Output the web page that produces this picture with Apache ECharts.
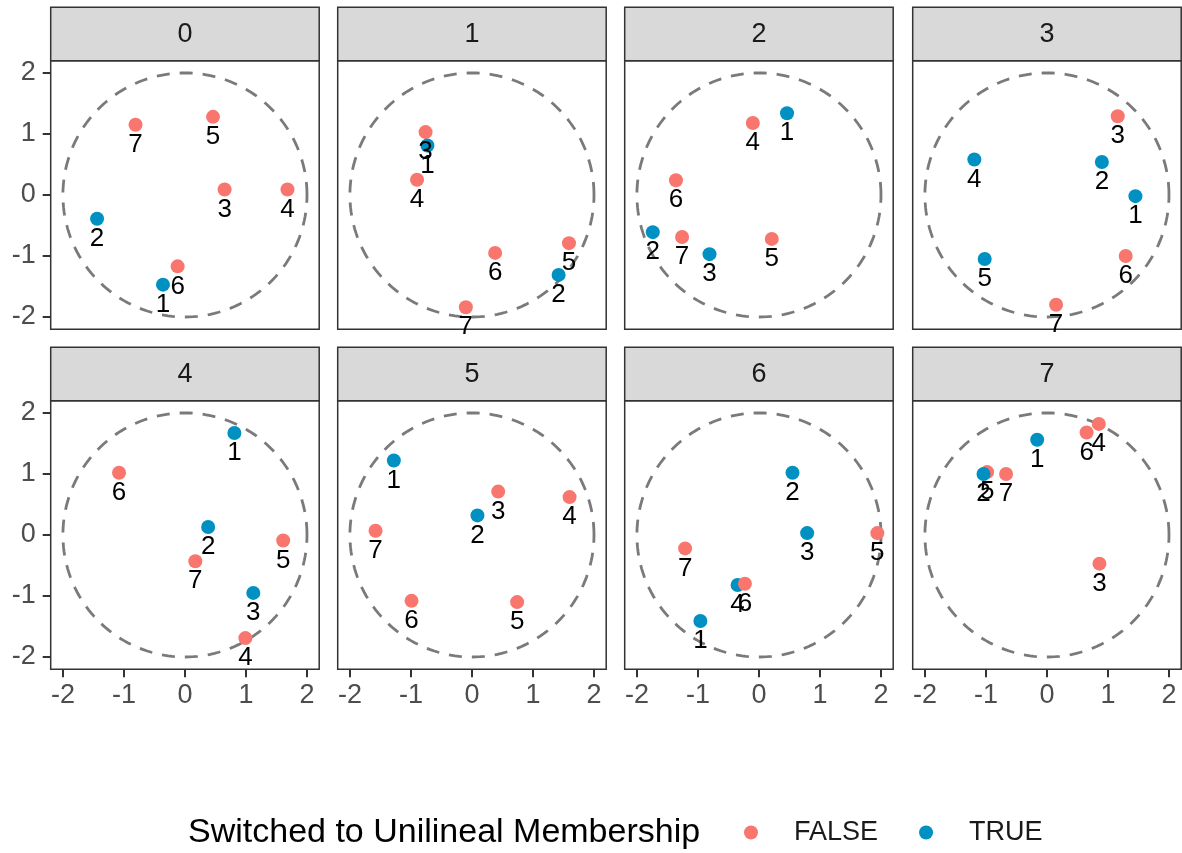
<!DOCTYPE html>
<html>
<head>
<meta charset="utf-8">
<script src="https://cdn.jsdelivr.net/npm/echarts@6/dist/echarts.min.js"></script>
<style>
  html, body { margin: 0; padding: 0; background: #ffffff; }
  #chart { width: 1182px; height: 853px; }
</style>
</head>
<body>
<div id="chart"></div>
<script>
// Facet titles, one per panel
const PANELS = ['0', '1', '2', '3', '4', '5', '6', '7'];

// Each row: [label, x, y, switched (0 = FALSE, 1 = TRUE)]
const PANEL_0 = [[7, -0.81, 1.15, 0], [5, 0.46, 1.28, 0], [3, 0.65, 0.09, 0], [4, 1.68, 0.09, 0],
                 [2, -1.44, -0.39, 1], [6, -0.12, -1.17, 0], [1, -0.36, -1.47, 1]];
const PANEL_1 = [[3, -0.76, 1.03, 0], [1, -0.73, 0.81, 1], [4, -0.90, 0.25, 0], [6, 0.38, -0.95, 0],
                 [5, 1.59, -0.79, 0], [2, 1.42, -1.31, 1], [7, -0.10, -1.84, 0]];
const PANEL_2 = [[1, 0.46, 1.34, 1], [4, -0.10, 1.18, 0], [6, -1.36, 0.24, 0], [2, -1.74, -0.61, 1],
                 [7, -1.26, -0.69, 0], [5, 0.21, -0.72, 0], [3, -0.81, -0.97, 1]];
const PANEL_3 = [[3, 1.16, 1.29, 0], [4, -1.19, 0.58, 1], [2, 0.90, 0.54, 1], [1, 1.45, -0.02, 1],
                 [6, 1.29, -1.00, 0], [5, -1.02, -1.05, 1], [7, 0.15, -1.80, 0]];
const PANEL_4 = [[1, 0.81, 1.67, 1], [6, -1.08, 1.02, 0], [2, 0.38, 0.13, 1], [5, 1.61, -0.09, 0],
                 [7, 0.17, -0.43, 0], [3, 1.12, -0.95, 1], [4, 0.99, -1.69, 0]];
const PANEL_5 = [[1, -1.28, 1.22, 1], [3, 0.43, 0.71, 0], [4, 1.60, 0.62, 0], [2, 0.09, 0.32, 1],
                 [7, -1.58, 0.07, 0], [6, -0.99, -1.08, 0], [5, 0.74, -1.10, 0]];
const PANEL_6 = [[2, 0.55, 1.02, 1], [3, 0.79, 0.03, 1], [5, 1.94, 0.03, 0], [7, -1.21, -0.22, 0],
                 [4, -0.35, -0.82, 1], [6, -0.23, -0.80, 0], [1, -0.96, -1.41, 1]];
const PANEL_7 = [[4, 0.85, 1.82, 0], [6, 0.65, 1.68, 0], [1, -0.16, 1.56, 1], [5, -0.98, 1.03, 0],
                 [2, -1.04, 1.00, 1], [7, -0.67, 1.00, 0], [3, 0.86, -0.47, 0]];
const PANEL_DATA = [PANEL_0, PANEL_1, PANEL_2, PANEL_3, PANEL_4, PANEL_5, PANEL_6, PANEL_7];

// Axis ticks and the reference circle
const TICKS = [-2, -1, 0, 1, 2];
const AXIS_MIN = -2.2;
const AXIS_MAX = 2.2;
const CIRCLE_CENTER = [0, 0];
const CIRCLE_RADIUS = 2;

// Legend groups
const GROUP_NAMES = ['FALSE', 'TRUE'];
const GROUP_COLORS = ['#F8766D', '#0090C2'];
const LEGEND_TITLE = 'Switched to Unilineal Membership';

// Facet layout (pixels)
const COL_LEFT = [50.7, 337.7, 624.7, 912.7];
const ROW_TOP = [60.7, 400.7];
const PANEL_W = 268.5;
const PANEL_H = 268.5;
const STRIP_H = 53.5;

const FONT = '"Liberation Sans", Arial, Helvetica, sans-serif';

const grids = [], xAxes = [], yAxes = [], series = [], graphics = [];
const scatterIdx = [];

PANELS.forEach((name, i) => {
  const c = i % 4, r = Math.floor(i / 4);
  const left = COL_LEFT[c], top = ROW_TOP[r];
  grids.push({
    left: left, top: top, width: PANEL_W, height: PANEL_H,
    show: true, borderColor: '#333333', borderWidth: 1.5, backgroundColor: '#ffffff'
  });
  const showX = r === 1, showY = c === 0;
  xAxes.push({
    gridIndex: i, type: 'value', min: AXIS_MIN, max: AXIS_MAX,
    splitLine: { show: false },
    axisLine: { show: false, onZero: false },
    axisTick: { show: showX, customValues: TICKS, length: 8, lineStyle: { color: '#333333', width: 2 } },
    axisLabel: { show: showX, customValues: TICKS, fontSize: 27, color: '#4D4D4D', margin: 13, fontFamily: FONT }
  });
  yAxes.push({
    gridIndex: i, type: 'value', min: AXIS_MIN, max: AXIS_MAX,
    splitLine: { show: false },
    axisLine: { show: false, onZero: false },
    axisTick: { show: showY, customValues: TICKS, length: 8, lineStyle: { color: '#333333', width: 2 } },
    axisLabel: { show: showY, customValues: TICKS, fontSize: 27, color: '#4D4D4D', margin: 15, fontFamily: FONT }
  });

  // dashed reference circle
  series.push({
    type: 'custom', xAxisIndex: i, yAxisIndex: i, z: 1, silent: true,
    data: [[CIRCLE_CENTER[0], CIRCLE_CENTER[1], CIRCLE_RADIUS]],
    renderItem: function (params, api) {
      const cx = api.value(0), cy = api.value(1), rad = api.value(2);
      const pts = [];
      for (let k = 0; k <= 180; k++) {
        const t = (k / 180) * Math.PI * 2;
        pts.push(api.coord([cx + rad * Math.cos(t), cy + rad * Math.sin(t)]));
      }
      return {
        type: 'polyline',
        shape: { points: pts },
        style: { stroke: '#7A7A7A', lineWidth: 2.8, lineDash: [13, 10], fill: null }
      };
    }
  });

  // points with their labels
  scatterIdx.push(series.length);
  series.push({
    type: 'scatter', xAxisIndex: i, yAxisIndex: i, z: 2,
    symbol: 'circle', symbolSize: 14,
    itemStyle: { opacity: 1 },
    data: PANEL_DATA[i].map(d => [d[1], d[2], d[0], d[3]]),
    label: {
      show: true, position: 'bottom', distance: 0,
      formatter: p => String(p.value[2]),
      fontSize: 26, color: '#000000', fontFamily: FONT
    },
    emphasis: { disabled: true }
  });

  // facet strip
  const stripTop = top - STRIP_H;
  graphics.push({
    type: 'rect', z: 10,
    shape: { x: left, y: stripTop, width: PANEL_W, height: STRIP_H },
    style: { fill: '#D9D9D9', stroke: '#333333', lineWidth: 1.5 }
  });
  graphics.push({
    type: 'text', z: 11,
    x: left + PANEL_W / 2, y: stripTop + STRIP_H / 2 + 1,
    style: { text: name, fontSize: 27, fill: '#1A1A1A', align: 'center', verticalAlign: 'middle', fontFamily: FONT }
  });
});

const chart = echarts.init(document.getElementById('chart'), null, { renderer: 'canvas' });
chart.setOption({
  animation: false,
  backgroundColor: '#ffffff',
  textStyle: { fontFamily: FONT },
  title: {
    text: LEGEND_TITLE, left: 188, top: 816, padding: 0,
    textStyle: { fontSize: 34, fontWeight: 'normal', color: '#000000', fontFamily: FONT }
  },
  visualMap: {
    type: 'piecewise', orient: 'horizontal', dimension: 3,
    seriesIndex: scatterIdx,
    left: 744, top: 819, padding: 0,
    itemWidth: 14, itemHeight: 14, itemSymbol: 'circle',
    itemGap: 41, textGap: 36, selectedMode: false,
    textStyle: { fontSize: 27, color: '#1A1A1A', fontFamily: FONT },
    pieces: GROUP_NAMES.map((g, k) => ({ value: k, label: g, color: GROUP_COLORS[k] }))
  },
  grid: grids,
  xAxis: xAxes,
  yAxis: yAxes,
  series: series,
  graphic: graphics
});
</script>
</body>
</html>
